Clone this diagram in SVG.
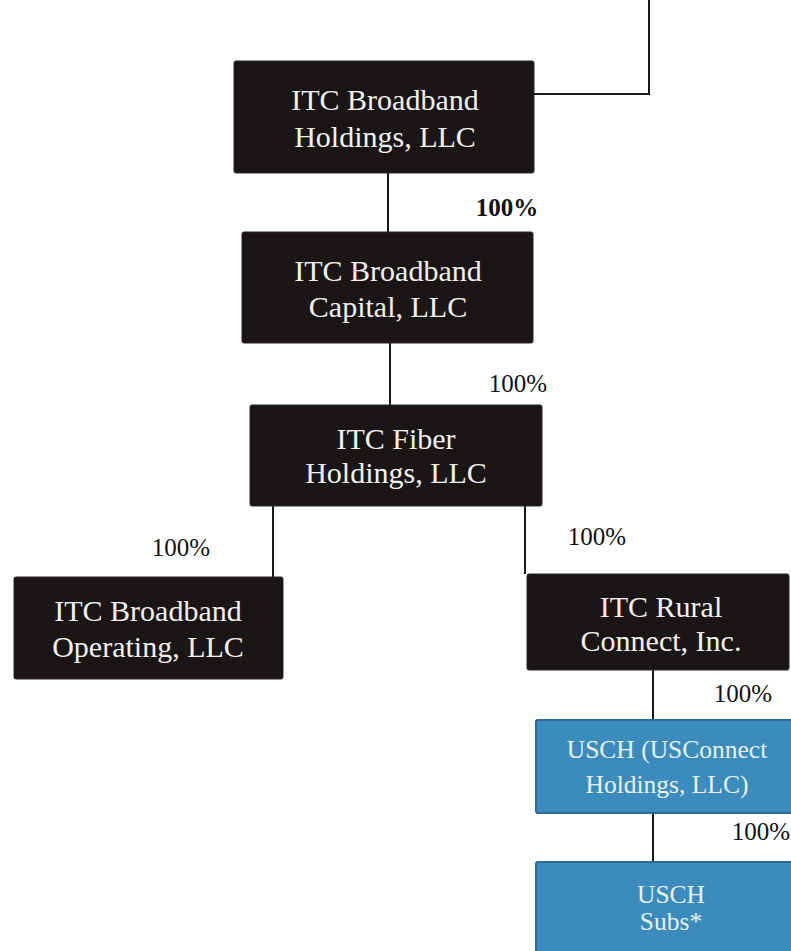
<svg xmlns="http://www.w3.org/2000/svg" width="791" height="951" viewBox="0 0 791 951">
<style>
.dark{fill:#1b1616;stroke:#2a2424;stroke-width:1}
.blue{fill:#3b8bbd;stroke:#2b6a92;stroke-width:2}
.t{font-family:"Liberation Serif","Times New Roman",serif;font-size:30px;fill:#f2f0ee;text-anchor:middle}
.tb{font-family:"Liberation Serif","Times New Roman",serif;font-size:25.5px;fill:#e8f2f8;text-anchor:middle}
.p{font-family:"Liberation Serif","Times New Roman",serif;font-size:25px;fill:#111;text-anchor:middle}
.ln{stroke:#1a1a1a;stroke-width:2;fill:none}
</style>
<rect width="791" height="951" fill="#ffffff"/>
<g id="connectors">
<polyline class="ln" points="534,94 649,94 649,0"/>
<line class="ln" x1="388" y1="173" x2="388" y2="232"/>
<line class="ln" x1="390" y1="343" x2="390" y2="405"/>
<polyline class="ln" points="273,506 273,577"/>
<polyline class="ln" points="525,506 525,574"/>
<line class="ln" x1="653" y1="670" x2="653" y2="720"/>
<line class="ln" x1="653" y1="813" x2="653" y2="862"/>
<text class="p" x="507" y="216" font-weight="bold" font-size="24">100%</text>
<text class="p" x="518" y="392">100%</text>
<text class="p" x="181" y="556">100%</text>
<text class="p" x="597" y="545">100%</text>
<text class="p" x="743" y="702">100%</text>
<text class="p" x="761" y="840">100%</text>
</g>
<g id="itc-broadband-holdings">
<rect class="dark" x="234" y="61" width="300" height="112" rx="2"/>
<text class="t" x="385" y="110">ITC Broadband</text>
<text class="t" x="385" y="147">Holdings, LLC</text>
</g>
<g id="itc-broadband-capital">
<rect class="dark" x="242" y="232" width="291" height="111" rx="2"/>
<text class="t" x="388" y="281">ITC Broadband</text>
<text class="t" x="388" y="317">Capital, LLC</text>
</g>
<g id="itc-fiber-holdings">
<rect class="dark" x="250" y="405" width="292" height="101" rx="2"/>
<text class="t" x="396" y="449">ITC Fiber</text>
<text class="t" x="396" y="483">Holdings, LLC</text>
</g>
<g id="itc-broadband-operating">
<rect class="dark" x="14" y="577" width="269" height="102" rx="2"/>
<text class="t" x="148" y="621">ITC Broadband</text>
<text class="t" x="148" y="657">Operating, LLC</text>
</g>
<g id="itc-rural-connect">
<rect class="dark" x="527" y="574" width="262" height="96" rx="2"/>
<text class="t" x="661" y="617">ITC Rural</text>
<text class="t" x="661" y="651">Connect, Inc.</text>
</g>
<g id="usch">
<rect class="blue" x="536" y="720" width="262" height="93" rx="2"/>
<text class="tb" x="667" y="758">USCH (USConnect</text>
<text class="tb" x="667" y="793">Holdings, LLC)</text>
</g>
<g id="usch-subs">
<rect class="blue" x="536" y="862" width="270" height="100" rx="2"/>
<text class="tb" x="671" y="903">USCH</text>
<text class="tb" x="671" y="930">Subs*</text>
</g>
</svg>
